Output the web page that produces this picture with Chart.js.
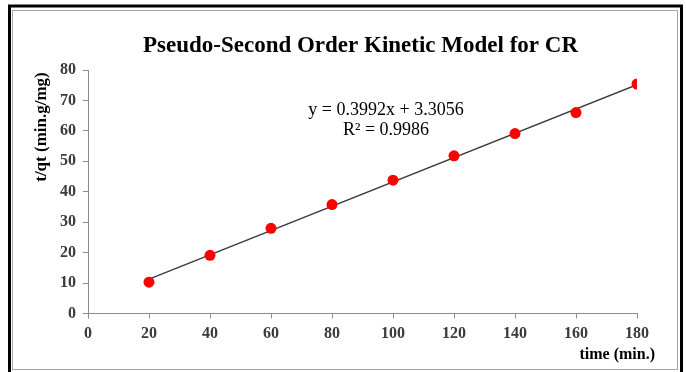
<!DOCTYPE html>
<html>
<head>
<meta charset="utf-8">
<script src="https://cdn.jsdelivr.net/npm/chart.js@4"></script>
<style>
  html, body { margin: 0; padding: 0; background: #ffffff; }
  #wrap { width: 686px; height: 372px; }
</style>
</head>
<body>
<div id="wrap"><canvas id="chart" width="686" height="372"></canvas></div>
<script>
// Pseudo-second order kinetics for CR: t/qt against contact time
const times = [20, 40, 60, 80, 100, 120, 140, 160, 180];
const tOverQt = [10.3, 19.1, 28.0, 35.8, 43.8, 51.8, 59.1, 66.0, 75.4];

// Linear fit reported on the chart
const fitSlope = 0.3992;
const fitIntercept = 3.3056;
const fitR2 = 0.9986;
const fitRange = [20, 180];

const xTicks = [0, 20, 40, 60, 80, 100, 120, 140, 160, 180];
const yTicks = [0, 10, 20, 30, 40, 50, 60, 70, 80];

const chartTitle = 'Pseudo-Second Order Kinetic Model for CR';
const xTitle = 'time (min.)';
const yTitle = 't/qt (min.g/mg)';

const SERIF = '"Liberation Serif", "Times New Roman", serif';

const scatterPoints = times.map((t, i) => ({ x: t, y: tOverQt[i] }));
const fitPoints = fitRange.map(x => ({ x: x, y: fitSlope * x + fitIntercept }));

// Frame, title, equation and axis titles
const decorations = {
  id: 'decorations',
  beforeDraw(chart) {
    const ctx = chart.ctx;
    ctx.save();
    ctx.fillStyle = '#ffffff';
    ctx.fillRect(0, 0, chart.width, chart.height);
    // outer black frame (its lower edge runs past the bottom of the canvas)
    ctx.strokeStyle = '#000000';
    ctx.lineWidth = 3;
    ctx.strokeRect(9.5, 6, 672, 372);
    // inner grey frame
    ctx.strokeStyle = '#a6a6a6';
    ctx.lineWidth = 1;
    ctx.strokeRect(12.5, 10.5, 665, 359);
    ctx.restore();
  },
  afterDraw(chart) {
    const ctx = chart.ctx;
    const area = chart.chartArea;
    ctx.save();
    ctx.fillStyle = '#000000';
    ctx.textAlign = 'center';
    ctx.textBaseline = 'middle';

    ctx.font = 'bold 23px ' + SERIF;
    ctx.fillText(chartTitle, (area.left + area.right) / 2 - 2, 46);

    ctx.font = '18px ' + SERIF;
    ctx.fillText('y = ' + fitSlope.toFixed(4) + 'x + ' + fitIntercept.toFixed(4), 386, 110);
    ctx.fillText('R\u00B2 = ' + fitR2.toFixed(4), 386, 130);

    ctx.font = 'bold 16px ' + SERIF;
    ctx.textAlign = 'right';
    ctx.fillText(xTitle, 655, 355);

    ctx.font = 'bold 17px ' + SERIF;
    ctx.translate(42, 127);
    ctx.rotate(-Math.PI / 2);
    ctx.textAlign = 'center';
    ctx.fillText(yTitle, 0, 0);
    ctx.restore();
  }
};

const axisGrey = '#8c8c8c';
const tickFont = { family: SERIF, size: 16, weight: 'bold' };

new Chart(document.getElementById('chart'), {
  type: 'scatter',
  data: {
    datasets: [
      {
        label: 't/qt',
        data: scatterPoints,
        backgroundColor: '#ff0000',
        borderColor: '#ff0000',
        borderWidth: 0,
        pointRadius: 5.5,
        pointHoverRadius: 5.5
      },
      {
        label: 'Linear fit',
        type: 'line',
        data: fitPoints,
        borderColor: '#3a3a3a',
        borderWidth: 1.3,
        pointRadius: 0,
        fill: false,
        tension: 0
      }
    ]
  },
  options: {
    responsive: false,
    animation: false,
    events: [],
    layout: { padding: { left: 0, right: 49, top: 70, bottom: 0 } },
    plugins: {
      legend: { display: false },
      title: { display: false },
      tooltip: { enabled: false }
    },
    scales: {
      x: {
        type: 'linear',
        min: xTicks[0],
        max: xTicks[xTicks.length - 1],
        afterBuildTicks(scale) { scale.ticks = xTicks.map(v => ({ value: v })); },
        afterFit(scale) { scale.height = 58.5; },
        border: { display: true, color: axisGrey, width: 1 },
        grid: { drawOnChartArea: false, drawTicks: true, tickLength: 5, color: axisGrey },
        ticks: { font: tickFont, color: '#3a3a3a', padding: 6, maxRotation: 0 }
      },
      y: {
        type: 'linear',
        min: yTicks[0],
        max: yTicks[yTicks.length - 1],
        afterBuildTicks(scale) { scale.ticks = yTicks.map(v => ({ value: v })); },
        afterFit(scale) { scale.width = 88; },
        border: { display: true, color: axisGrey, width: 1 },
        grid: { drawOnChartArea: false, drawTicks: true, tickLength: 5, color: axisGrey },
        ticks: { font: tickFont, color: '#3a3a3a', padding: 7 }
      }
    }
  },
  plugins: [decorations]
});
</script>
</body>
</html>
